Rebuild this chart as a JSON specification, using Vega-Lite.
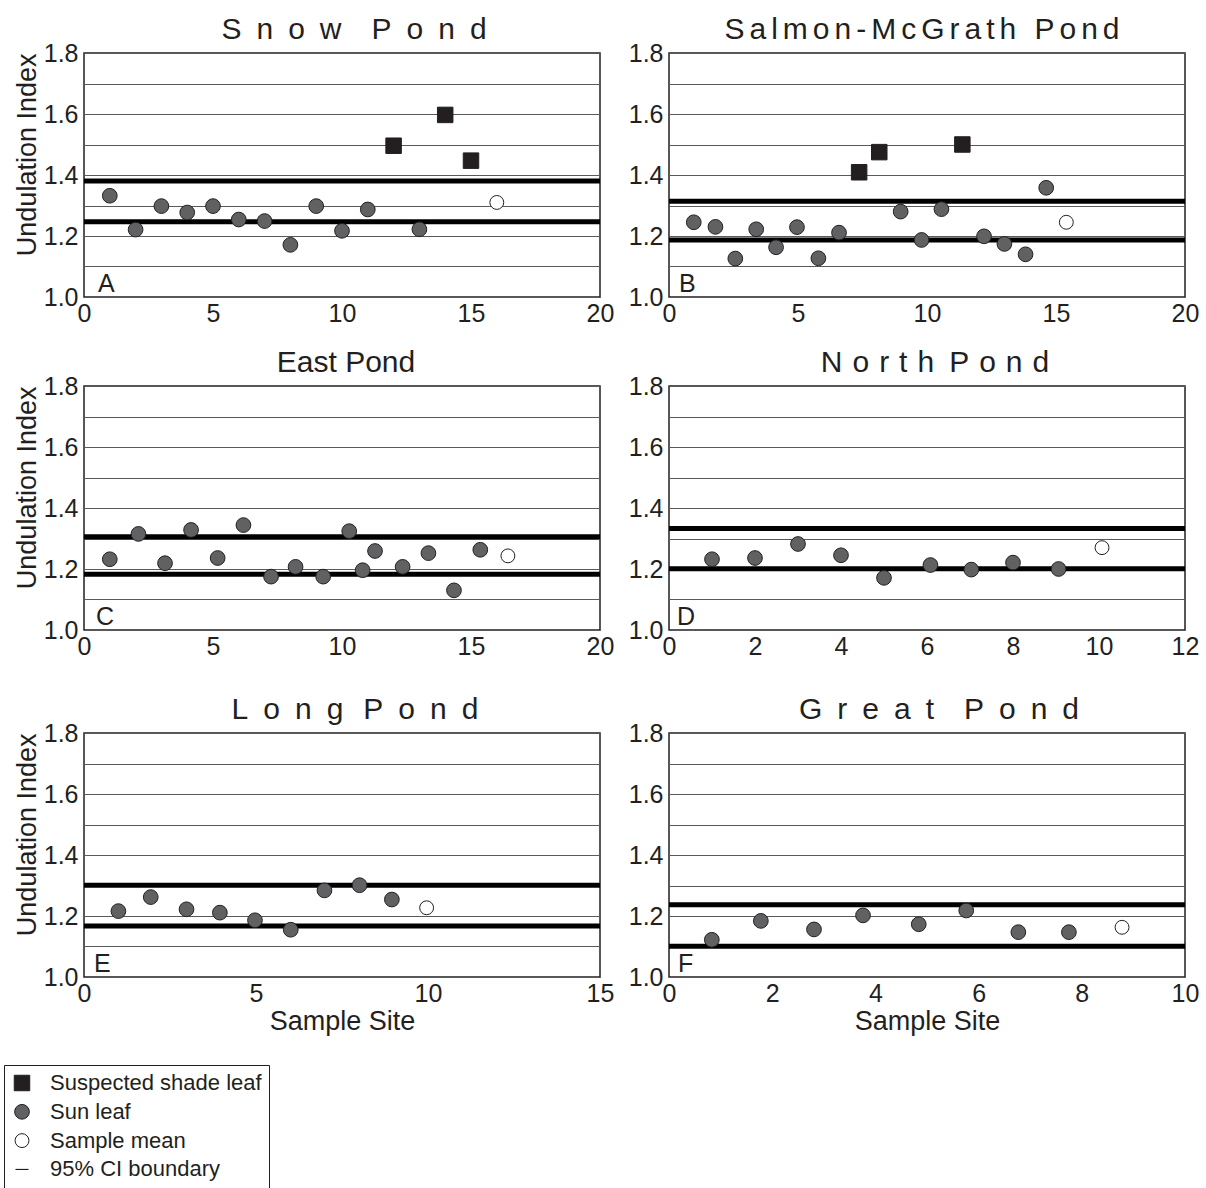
{
  "$schema": "https://vega.github.io/schema/vega-lite/v6.json",
  "padding": {"left": 3, "top": 14, "right": 3, "bottom": 0},
  "background": "#ffffff",
  "datasets": {
    "pts": [
      {"pond": "A", "site": 1, "ui": 1.332, "type": "Sun leaf"},
      {"pond": "A", "site": 2, "ui": 1.221, "type": "Sun leaf"},
      {"pond": "A", "site": 3, "ui": 1.298, "type": "Sun leaf"},
      {"pond": "A", "site": 4, "ui": 1.277, "type": "Sun leaf"},
      {"pond": "A", "site": 5, "ui": 1.298, "type": "Sun leaf"},
      {"pond": "A", "site": 6, "ui": 1.254, "type": "Sun leaf"},
      {"pond": "A", "site": 7, "ui": 1.249, "type": "Sun leaf"},
      {"pond": "A", "site": 8, "ui": 1.171, "type": "Sun leaf"},
      {"pond": "A", "site": 9, "ui": 1.298, "type": "Sun leaf"},
      {"pond": "A", "site": 10, "ui": 1.217, "type": "Sun leaf"},
      {"pond": "A", "site": 11, "ui": 1.287, "type": "Sun leaf"},
      {"pond": "A", "site": 12, "ui": 1.496, "type": "Suspected shade leaf"},
      {"pond": "A", "site": 13, "ui": 1.222, "type": "Sun leaf"},
      {"pond": "A", "site": 14, "ui": 1.597, "type": "Suspected shade leaf"},
      {"pond": "A", "site": 15, "ui": 1.447, "type": "Suspected shade leaf"},
      {"pond": "A", "site": 16, "ui": 1.31, "type": "Sample mean"},
      {"pond": "B", "site": 0.96, "ui": 1.245, "type": "Sun leaf"},
      {"pond": "B", "site": 1.8, "ui": 1.23, "type": "Sun leaf"},
      {"pond": "B", "site": 2.57, "ui": 1.126, "type": "Sun leaf"},
      {"pond": "B", "site": 3.38, "ui": 1.222, "type": "Sun leaf"},
      {"pond": "B", "site": 4.15, "ui": 1.163, "type": "Sun leaf"},
      {"pond": "B", "site": 4.96, "ui": 1.229, "type": "Sun leaf"},
      {"pond": "B", "site": 5.79, "ui": 1.127, "type": "Sun leaf"},
      {"pond": "B", "site": 6.59, "ui": 1.211, "type": "Sun leaf"},
      {"pond": "B", "site": 7.37, "ui": 1.409, "type": "Suspected shade leaf"},
      {"pond": "B", "site": 8.15, "ui": 1.475, "type": "Suspected shade leaf"},
      {"pond": "B", "site": 8.98, "ui": 1.28, "type": "Sun leaf"},
      {"pond": "B", "site": 9.79, "ui": 1.187, "type": "Sun leaf"},
      {"pond": "B", "site": 10.56, "ui": 1.288, "type": "Sun leaf"},
      {"pond": "B", "site": 11.37, "ui": 1.5, "type": "Suspected shade leaf"},
      {"pond": "B", "site": 12.21, "ui": 1.199, "type": "Sun leaf"},
      {"pond": "B", "site": 13.0, "ui": 1.174, "type": "Sun leaf"},
      {"pond": "B", "site": 13.82, "ui": 1.14, "type": "Sun leaf"},
      {"pond": "B", "site": 14.62, "ui": 1.358, "type": "Sun leaf"},
      {"pond": "B", "site": 15.4, "ui": 1.245, "type": "Sample mean"},
      {"pond": "C", "site": 1.0, "ui": 1.232, "type": "Sun leaf"},
      {"pond": "C", "site": 2.11, "ui": 1.315, "type": "Sun leaf"},
      {"pond": "C", "site": 3.14, "ui": 1.219, "type": "Sun leaf"},
      {"pond": "C", "site": 4.15, "ui": 1.328, "type": "Sun leaf"},
      {"pond": "C", "site": 5.18, "ui": 1.236, "type": "Sun leaf"},
      {"pond": "C", "site": 6.18, "ui": 1.344, "type": "Sun leaf"},
      {"pond": "C", "site": 7.25, "ui": 1.175, "type": "Sun leaf"},
      {"pond": "C", "site": 8.2, "ui": 1.207, "type": "Sun leaf"},
      {"pond": "C", "site": 9.27, "ui": 1.175, "type": "Sun leaf"},
      {"pond": "C", "site": 10.28, "ui": 1.324, "type": "Sun leaf"},
      {"pond": "C", "site": 10.8, "ui": 1.196, "type": "Sun leaf"},
      {"pond": "C", "site": 11.28, "ui": 1.259, "type": "Sun leaf"},
      {"pond": "C", "site": 12.35, "ui": 1.207, "type": "Sun leaf"},
      {"pond": "C", "site": 13.35, "ui": 1.252, "type": "Sun leaf"},
      {"pond": "C", "site": 14.34, "ui": 1.13, "type": "Sun leaf"},
      {"pond": "C", "site": 15.36, "ui": 1.263, "type": "Sun leaf"},
      {"pond": "C", "site": 16.43, "ui": 1.243, "type": "Sample mean"},
      {"pond": "D", "site": 1, "ui": 1.232, "type": "Sun leaf"},
      {"pond": "D", "site": 2, "ui": 1.236, "type": "Sun leaf"},
      {"pond": "D", "site": 3, "ui": 1.282, "type": "Sun leaf"},
      {"pond": "D", "site": 4, "ui": 1.245, "type": "Sun leaf"},
      {"pond": "D", "site": 5, "ui": 1.171, "type": "Sun leaf"},
      {"pond": "D", "site": 6.08, "ui": 1.213, "type": "Sun leaf"},
      {"pond": "D", "site": 7.03, "ui": 1.198, "type": "Sun leaf"},
      {"pond": "D", "site": 8, "ui": 1.221, "type": "Sun leaf"},
      {"pond": "D", "site": 9.06, "ui": 1.2, "type": "Sun leaf"},
      {"pond": "D", "site": 10.07, "ui": 1.27, "type": "Sample mean"},
      {"pond": "E", "site": 1, "ui": 1.216, "type": "Sun leaf"},
      {"pond": "E", "site": 1.94, "ui": 1.262, "type": "Sun leaf"},
      {"pond": "E", "site": 2.98, "ui": 1.222, "type": "Sun leaf"},
      {"pond": "E", "site": 3.95, "ui": 1.211, "type": "Sun leaf"},
      {"pond": "E", "site": 4.97, "ui": 1.186, "type": "Sun leaf"},
      {"pond": "E", "site": 6.01, "ui": 1.155, "type": "Sun leaf"},
      {"pond": "E", "site": 6.99, "ui": 1.284, "type": "Sun leaf"},
      {"pond": "E", "site": 8.01, "ui": 1.301, "type": "Sun leaf"},
      {"pond": "E", "site": 8.95, "ui": 1.254, "type": "Sun leaf"},
      {"pond": "E", "site": 9.96, "ui": 1.227, "type": "Sample mean"},
      {"pond": "F", "site": 0.83, "ui": 1.122, "type": "Sun leaf"},
      {"pond": "F", "site": 1.78, "ui": 1.184, "type": "Sun leaf"},
      {"pond": "F", "site": 2.81, "ui": 1.156, "type": "Sun leaf"},
      {"pond": "F", "site": 3.76, "ui": 1.202, "type": "Sun leaf"},
      {"pond": "F", "site": 4.84, "ui": 1.173, "type": "Sun leaf"},
      {"pond": "F", "site": 5.76, "ui": 1.218, "type": "Sun leaf"},
      {"pond": "F", "site": 6.77, "ui": 1.147, "type": "Sun leaf"},
      {"pond": "F", "site": 7.75, "ui": 1.147, "type": "Sun leaf"},
      {"pond": "F", "site": 8.78, "ui": 1.163, "type": "Sample mean"}
    ],
    "ci": [
      {"pond": "A", "ci": 1.38}, {"pond": "A", "ci": 1.247},
      {"pond": "B", "ci": 1.314}, {"pond": "B", "ci": 1.187},
      {"pond": "C", "ci": 1.306}, {"pond": "C", "ci": 1.183},
      {"pond": "D", "ci": 1.333}, {"pond": "D", "ci": 1.201},
      {"pond": "E", "ci": 1.301}, {"pond": "E", "ci": 1.167},
      {"pond": "F", "ci": 1.237}, {"pond": "F", "ci": 1.101}
    ],
    "lab": [
      {"pond": "A", "letter": "A"}, {"pond": "B", "letter": "B"},
      {"pond": "C", "letter": "C"}, {"pond": "D", "letter": "D"},
      {"pond": "E", "letter": "E"}, {"pond": "F", "letter": "F"}
    ]
  },
  "vconcat": [
    {
      "spacing": 20,
      "vconcat": [
        {
          "spacing": 12,
          "hconcat": [
            {
              "width": 516, "height": 244,
              "title": {"text": "S\u2002n\u2002o\u2002w\u2003P\u2002o\u2002n\u2002d", "dx": 12},
              "layer": [
                {"data": {"name": "ci"}, "transform": [{"filter": "datum.pond === 'A'"}],
                 "mark": {"type": "rule", "strokeWidth": 5, "color": "#000000"},
                 "encoding": {"y": {"field": "ci", "type": "quantitative", "scale": {"domain": [1, 1.8], "nice": false, "zero": false},
                   "axis": {"values": [1, 1.1, 1.2, 1.3, 1.4, 1.5, 1.6, 1.7, 1.8], "grid": true, "labelExpr": "round(datum.value*10) % 2 == 0 ? format(datum.value, '.1f') : ''", "title": "Undulation Index", "titleAnchor": "end"}}}},
                {"data": {"name": "pts"}, "transform": [{"filter": "datum.pond === 'A'"}],
                 "mark": {"type": "point", "filled": true, "opacity": 1},
                 "encoding": {
                   "x": {"field": "site", "type": "quantitative", "scale": {"domain": [0, 20], "nice": false, "zero": false}, "axis": {"values": [0, 5, 10, 15, 20], "title": null}},
                   "y": {"field": "ui", "type": "quantitative", "scale": {"domain": [1, 1.8], "nice": false, "zero": false},
                     "axis": {"values": [1, 1.1, 1.2, 1.3, 1.4, 1.5, 1.6, 1.7, 1.8], "grid": true, "labelExpr": "round(datum.value*10) % 2 == 0 ? format(datum.value, '.1f') : ''", "title": "Undulation Index", "titleAnchor": "end"}},
                   "shape": {"field": "type", "type": "nominal", "scale": {"domain": ["Suspected shade leaf", "Sun leaf", "Sample mean", "95% CI boundary"], "range": ["square", "circle", "circle", "stroke"]},
                     "legend": {"title": null, "orient": "none", "legendX": -80, "legendY": 1012}},
                   "fill": {"field": "type", "type": "nominal", "scale": {"domain": ["Suspected shade leaf", "Sun leaf", "Sample mean", "95% CI boundary"], "range": ["#231f20", "#616163", "#ffffff", "#231f20"]},
                     "legend": {"title": null, "orient": "none", "legendX": -80, "legendY": 1012}},
                   "stroke": {"field": "type", "type": "nominal", "scale": {"domain": ["Suspected shade leaf", "Sun leaf", "Sample mean", "95% CI boundary"], "range": ["#231f20", "#231f20", "#231f20", "#000000"]},
                     "legend": {"title": null, "orient": "none", "legendX": -80, "legendY": 1012}},
                   "size": {"field": "type", "type": "ordinal", "scale": {"domain": ["Suspected shade leaf", "Sun leaf", "Sample mean", "95% CI boundary"], "range": [240, 169, 110, 600]},
                     "legend": {"title": null, "orient": "none", "legendX": -80, "legendY": 1012}},
                   "strokeWidth": {"field": "type", "type": "ordinal", "scale": {"domain": ["Suspected shade leaf", "Sun leaf", "Sample mean", "95% CI boundary"], "range": [1, 1, 1, 5]},
                     "legend": {"title": null, "orient": "none", "legendX": -80, "legendY": 1012}}
                 }},
                {"data": {"name": "lab"}, "transform": [{"filter": "datum.pond === 'A'"}],
                 "mark": {"type": "text", "align": "left", "baseline": "bottom", "dx": 14, "fontSize": 25, "font": "Liberation Sans", "color": "#231f20"},
                 "encoding": {
                   "x": {"datum": 0, "type": "quantitative", "scale": {"domain": [0, 20], "nice": false, "zero": false}, "axis": {"values": [0, 5, 10, 15, 20], "title": null}},
                   "y": {"datum": 1, "type": "quantitative", "scale": {"domain": [1, 1.8], "nice": false, "zero": false},
                     "axis": {"values": [1, 1.1, 1.2, 1.3, 1.4, 1.5, 1.6, 1.7, 1.8], "grid": true, "labelExpr": "round(datum.value*10) % 2 == 0 ? format(datum.value, '.1f') : ''", "title": "Undulation Index", "titleAnchor": "end"}},
                   "text": {"field": "letter"}}}
              ]
            },
            {
              "width": 516, "height": 244,
              "title": {"text": "S\u2006a\u2006l\u2006m\u2006o\u2006n\u2006-\u2006M\u2006c\u2006G\u2006r\u2006a\u2006t\u2006h\u2006 \u2006P\u2006o\u2006n\u2006d", "dx": -5},
              "layer": [
                {"data": {"name": "ci"}, "transform": [{"filter": "datum.pond === 'B'"}],
                 "mark": {"type": "rule", "strokeWidth": 5, "color": "#000000"},
                 "encoding": {"y": {"field": "ci", "type": "quantitative", "scale": {"domain": [1, 1.8], "nice": false, "zero": false},
                   "axis": {"values": [1, 1.1, 1.2, 1.3, 1.4, 1.5, 1.6, 1.7, 1.8], "grid": true, "labelExpr": "round(datum.value*10) % 2 == 0 ? format(datum.value, '.1f') : ''", "title": null}}}},
                {"data": {"name": "pts"}, "transform": [{"filter": "datum.pond === 'B'"}],
                 "mark": {"type": "point", "filled": true, "opacity": 1},
                 "encoding": {
                   "x": {"field": "site", "type": "quantitative", "scale": {"domain": [0, 20], "nice": false, "zero": false}, "axis": {"values": [0, 5, 10, 15, 20], "title": null}},
                   "y": {"field": "ui", "type": "quantitative", "scale": {"domain": [1, 1.8], "nice": false, "zero": false},
                     "axis": {"values": [1, 1.1, 1.2, 1.3, 1.4, 1.5, 1.6, 1.7, 1.8], "grid": true, "labelExpr": "round(datum.value*10) % 2 == 0 ? format(datum.value, '.1f') : ''", "title": null}},
                   "shape": {"field": "type", "type": "nominal", "scale": {"domain": ["Suspected shade leaf", "Sun leaf", "Sample mean", "95% CI boundary"], "range": ["square", "circle", "circle", "stroke"]},
                     "legend": {"title": null, "orient": "none", "legendX": -80, "legendY": 1012}},
                   "fill": {"field": "type", "type": "nominal", "scale": {"domain": ["Suspected shade leaf", "Sun leaf", "Sample mean", "95% CI boundary"], "range": ["#231f20", "#616163", "#ffffff", "#231f20"]},
                     "legend": {"title": null, "orient": "none", "legendX": -80, "legendY": 1012}},
                   "stroke": {"field": "type", "type": "nominal", "scale": {"domain": ["Suspected shade leaf", "Sun leaf", "Sample mean", "95% CI boundary"], "range": ["#231f20", "#231f20", "#231f20", "#000000"]},
                     "legend": {"title": null, "orient": "none", "legendX": -80, "legendY": 1012}},
                   "size": {"field": "type", "type": "ordinal", "scale": {"domain": ["Suspected shade leaf", "Sun leaf", "Sample mean", "95% CI boundary"], "range": [240, 169, 110, 600]},
                     "legend": {"title": null, "orient": "none", "legendX": -80, "legendY": 1012}},
                   "strokeWidth": {"field": "type", "type": "ordinal", "scale": {"domain": ["Suspected shade leaf", "Sun leaf", "Sample mean", "95% CI boundary"], "range": [1, 1, 1, 5]},
                     "legend": {"title": null, "orient": "none", "legendX": -80, "legendY": 1012}}
                 }},
                {"data": {"name": "lab"}, "transform": [{"filter": "datum.pond === 'B'"}],
                 "mark": {"type": "text", "align": "left", "baseline": "bottom", "dx": 10, "fontSize": 25, "font": "Liberation Sans", "color": "#231f20"},
                 "encoding": {
                   "x": {"datum": 0, "type": "quantitative", "scale": {"domain": [0, 20], "nice": false, "zero": false}, "axis": {"values": [0, 5, 10, 15, 20], "title": null}},
                   "y": {"datum": 1, "type": "quantitative", "scale": {"domain": [1, 1.8], "nice": false, "zero": false},
                     "axis": {"values": [1, 1.1, 1.2, 1.3, 1.4, 1.5, 1.6, 1.7, 1.8], "grid": true, "labelExpr": "round(datum.value*10) % 2 == 0 ? format(datum.value, '.1f') : ''", "title": null}},
                   "text": {"field": "letter"}}}
              ]
            }
          ]
        },
        {
          "spacing": 12,
          "hconcat": [
            {
              "width": 516, "height": 244,
              "title": {"text": "East Pond", "dx": 4},
              "layer": [
                {"data": {"name": "ci"}, "transform": [{"filter": "datum.pond === 'C'"}],
                 "mark": {"type": "rule", "strokeWidth": 5, "color": "#000000"},
                 "encoding": {"y": {"field": "ci", "type": "quantitative", "scale": {"domain": [1, 1.8], "nice": false, "zero": false},
                   "axis": {"values": [1, 1.1, 1.2, 1.3, 1.4, 1.5, 1.6, 1.7, 1.8], "grid": true, "labelExpr": "round(datum.value*10) % 2 == 0 ? format(datum.value, '.1f') : ''", "title": "Undulation Index", "titleAnchor": "end"}}}},
                {"data": {"name": "pts"}, "transform": [{"filter": "datum.pond === 'C'"}],
                 "mark": {"type": "point", "filled": true, "opacity": 1},
                 "encoding": {
                   "x": {"field": "site", "type": "quantitative", "scale": {"domain": [0, 20], "nice": false, "zero": false}, "axis": {"values": [0, 5, 10, 15, 20], "title": null}},
                   "y": {"field": "ui", "type": "quantitative", "scale": {"domain": [1, 1.8], "nice": false, "zero": false},
                     "axis": {"values": [1, 1.1, 1.2, 1.3, 1.4, 1.5, 1.6, 1.7, 1.8], "grid": true, "labelExpr": "round(datum.value*10) % 2 == 0 ? format(datum.value, '.1f') : ''", "title": "Undulation Index", "titleAnchor": "end"}},
                   "shape": {"field": "type", "type": "nominal", "scale": {"domain": ["Suspected shade leaf", "Sun leaf", "Sample mean", "95% CI boundary"], "range": ["square", "circle", "circle", "stroke"]},
                     "legend": {"title": null, "orient": "none", "legendX": -80, "legendY": 1012}},
                   "fill": {"field": "type", "type": "nominal", "scale": {"domain": ["Suspected shade leaf", "Sun leaf", "Sample mean", "95% CI boundary"], "range": ["#231f20", "#616163", "#ffffff", "#231f20"]},
                     "legend": {"title": null, "orient": "none", "legendX": -80, "legendY": 1012}},
                   "stroke": {"field": "type", "type": "nominal", "scale": {"domain": ["Suspected shade leaf", "Sun leaf", "Sample mean", "95% CI boundary"], "range": ["#231f20", "#231f20", "#231f20", "#000000"]},
                     "legend": {"title": null, "orient": "none", "legendX": -80, "legendY": 1012}},
                   "size": {"field": "type", "type": "ordinal", "scale": {"domain": ["Suspected shade leaf", "Sun leaf", "Sample mean", "95% CI boundary"], "range": [240, 169, 110, 600]},
                     "legend": {"title": null, "orient": "none", "legendX": -80, "legendY": 1012}},
                   "strokeWidth": {"field": "type", "type": "ordinal", "scale": {"domain": ["Suspected shade leaf", "Sun leaf", "Sample mean", "95% CI boundary"], "range": [1, 1, 1, 5]},
                     "legend": {"title": null, "orient": "none", "legendX": -80, "legendY": 1012}}
                 }},
                {"data": {"name": "lab"}, "transform": [{"filter": "datum.pond === 'C'"}],
                 "mark": {"type": "text", "align": "left", "baseline": "bottom", "dx": 12, "fontSize": 25, "font": "Liberation Sans", "color": "#231f20"},
                 "encoding": {
                   "x": {"datum": 0, "type": "quantitative", "scale": {"domain": [0, 20], "nice": false, "zero": false}, "axis": {"values": [0, 5, 10, 15, 20], "title": null}},
                   "y": {"datum": 1, "type": "quantitative", "scale": {"domain": [1, 1.8], "nice": false, "zero": false},
                     "axis": {"values": [1, 1.1, 1.2, 1.3, 1.4, 1.5, 1.6, 1.7, 1.8], "grid": true, "labelExpr": "round(datum.value*10) % 2 == 0 ? format(datum.value, '.1f') : ''", "title": "Undulation Index", "titleAnchor": "end"}},
                   "text": {"field": "letter"}}}
              ]
            },
            {
              "width": 516, "height": 244,
              "title": {"text": "N\u2004o\u2004r\u2004t\u2004h\u2002P\u2004o\u2004n\u2004d", "dx": 8},
              "layer": [
                {"data": {"name": "ci"}, "transform": [{"filter": "datum.pond === 'D'"}],
                 "mark": {"type": "rule", "strokeWidth": 5, "color": "#000000"},
                 "encoding": {"y": {"field": "ci", "type": "quantitative", "scale": {"domain": [1, 1.8], "nice": false, "zero": false},
                   "axis": {"values": [1, 1.1, 1.2, 1.3, 1.4, 1.5, 1.6, 1.7, 1.8], "grid": true, "labelExpr": "round(datum.value*10) % 2 == 0 ? format(datum.value, '.1f') : ''", "title": null}}}},
                {"data": {"name": "pts"}, "transform": [{"filter": "datum.pond === 'D'"}],
                 "mark": {"type": "point", "filled": true, "opacity": 1},
                 "encoding": {
                   "x": {"field": "site", "type": "quantitative", "scale": {"domain": [0, 12], "nice": false, "zero": false}, "axis": {"values": [0, 2, 4, 6, 8, 10, 12], "title": null}},
                   "y": {"field": "ui", "type": "quantitative", "scale": {"domain": [1, 1.8], "nice": false, "zero": false},
                     "axis": {"values": [1, 1.1, 1.2, 1.3, 1.4, 1.5, 1.6, 1.7, 1.8], "grid": true, "labelExpr": "round(datum.value*10) % 2 == 0 ? format(datum.value, '.1f') : ''", "title": null}},
                   "shape": {"field": "type", "type": "nominal", "scale": {"domain": ["Suspected shade leaf", "Sun leaf", "Sample mean", "95% CI boundary"], "range": ["square", "circle", "circle", "stroke"]},
                     "legend": {"title": null, "orient": "none", "legendX": -80, "legendY": 1012}},
                   "fill": {"field": "type", "type": "nominal", "scale": {"domain": ["Suspected shade leaf", "Sun leaf", "Sample mean", "95% CI boundary"], "range": ["#231f20", "#616163", "#ffffff", "#231f20"]},
                     "legend": {"title": null, "orient": "none", "legendX": -80, "legendY": 1012}},
                   "stroke": {"field": "type", "type": "nominal", "scale": {"domain": ["Suspected shade leaf", "Sun leaf", "Sample mean", "95% CI boundary"], "range": ["#231f20", "#231f20", "#231f20", "#000000"]},
                     "legend": {"title": null, "orient": "none", "legendX": -80, "legendY": 1012}},
                   "size": {"field": "type", "type": "ordinal", "scale": {"domain": ["Suspected shade leaf", "Sun leaf", "Sample mean", "95% CI boundary"], "range": [240, 169, 110, 600]},
                     "legend": {"title": null, "orient": "none", "legendX": -80, "legendY": 1012}},
                   "strokeWidth": {"field": "type", "type": "ordinal", "scale": {"domain": ["Suspected shade leaf", "Sun leaf", "Sample mean", "95% CI boundary"], "range": [1, 1, 1, 5]},
                     "legend": {"title": null, "orient": "none", "legendX": -80, "legendY": 1012}}
                 }},
                {"data": {"name": "lab"}, "transform": [{"filter": "datum.pond === 'D'"}],
                 "mark": {"type": "text", "align": "left", "baseline": "bottom", "dx": 8, "fontSize": 25, "font": "Liberation Sans", "color": "#231f20"},
                 "encoding": {
                   "x": {"datum": 0, "type": "quantitative", "scale": {"domain": [0, 12], "nice": false, "zero": false}, "axis": {"values": [0, 2, 4, 6, 8, 10, 12], "title": null}},
                   "y": {"datum": 1, "type": "quantitative", "scale": {"domain": [1, 1.8], "nice": false, "zero": false},
                     "axis": {"values": [1, 1.1, 1.2, 1.3, 1.4, 1.5, 1.6, 1.7, 1.8], "grid": true, "labelExpr": "round(datum.value*10) % 2 == 0 ? format(datum.value, '.1f') : ''", "title": null}},
                   "text": {"field": "letter"}}}
              ]
            }
          ]
        }
      ]
    },
    {
      "spacing": 12,
      "hconcat": [
        {
          "width": 516, "height": 244,
          "title": {"text": "L\u2002o\u2002n\u2002g\u2002\u2006P\u2002o\u2002n\u2002d", "dx": 13},
          "layer": [
            {"data": {"name": "ci"}, "transform": [{"filter": "datum.pond === 'E'"}],
             "mark": {"type": "rule", "strokeWidth": 5, "color": "#000000"},
             "encoding": {"y": {"field": "ci", "type": "quantitative", "scale": {"domain": [1, 1.8], "nice": false, "zero": false},
               "axis": {"values": [1, 1.1, 1.2, 1.3, 1.4, 1.5, 1.6, 1.7, 1.8], "grid": true, "labelExpr": "round(datum.value*10) % 2 == 0 ? format(datum.value, '.1f') : ''", "title": "Undulation Index", "titleAnchor": "end"}}}},
            {"data": {"name": "pts"}, "transform": [{"filter": "datum.pond === 'E'"}],
             "mark": {"type": "point", "filled": true, "opacity": 1},
             "encoding": {
               "x": {"field": "site", "type": "quantitative", "scale": {"domain": [0, 15], "nice": false, "zero": false}, "axis": {"values": [0, 5, 10, 15], "title": "Sample Site"}},
               "y": {"field": "ui", "type": "quantitative", "scale": {"domain": [1, 1.8], "nice": false, "zero": false},
                 "axis": {"values": [1, 1.1, 1.2, 1.3, 1.4, 1.5, 1.6, 1.7, 1.8], "grid": true, "labelExpr": "round(datum.value*10) % 2 == 0 ? format(datum.value, '.1f') : ''", "title": "Undulation Index", "titleAnchor": "end"}},
               "shape": {"field": "type", "type": "nominal", "scale": {"domain": ["Suspected shade leaf", "Sun leaf", "Sample mean", "95% CI boundary"], "range": ["square", "circle", "circle", "stroke"]},
                 "legend": {"title": null, "orient": "none", "legendX": -80, "legendY": 1012}},
               "fill": {"field": "type", "type": "nominal", "scale": {"domain": ["Suspected shade leaf", "Sun leaf", "Sample mean", "95% CI boundary"], "range": ["#231f20", "#616163", "#ffffff", "#231f20"]},
                 "legend": {"title": null, "orient": "none", "legendX": -80, "legendY": 1012}},
               "stroke": {"field": "type", "type": "nominal", "scale": {"domain": ["Suspected shade leaf", "Sun leaf", "Sample mean", "95% CI boundary"], "range": ["#231f20", "#231f20", "#231f20", "#000000"]},
                 "legend": {"title": null, "orient": "none", "legendX": -80, "legendY": 1012}},
               "size": {"field": "type", "type": "ordinal", "scale": {"domain": ["Suspected shade leaf", "Sun leaf", "Sample mean", "95% CI boundary"], "range": [240, 169, 110, 600]},
                 "legend": {"title": null, "orient": "none", "legendX": -80, "legendY": 1012}},
               "strokeWidth": {"field": "type", "type": "ordinal", "scale": {"domain": ["Suspected shade leaf", "Sun leaf", "Sample mean", "95% CI boundary"], "range": [1, 1, 1, 5]},
                 "legend": {"title": null, "orient": "none", "legendX": -80, "legendY": 1012}}
             }},
            {"data": {"name": "lab"}, "transform": [{"filter": "datum.pond === 'E'"}],
             "mark": {"type": "text", "align": "left", "baseline": "bottom", "dx": 10, "fontSize": 25, "font": "Liberation Sans", "color": "#231f20"},
             "encoding": {
               "x": {"datum": 0, "type": "quantitative", "scale": {"domain": [0, 15], "nice": false, "zero": false}, "axis": {"values": [0, 5, 10, 15], "title": "Sample Site"}},
               "y": {"datum": 1, "type": "quantitative", "scale": {"domain": [1, 1.8], "nice": false, "zero": false},
                 "axis": {"values": [1, 1.1, 1.2, 1.3, 1.4, 1.5, 1.6, 1.7, 1.8], "grid": true, "labelExpr": "round(datum.value*10) % 2 == 0 ? format(datum.value, '.1f') : ''", "title": "Undulation Index", "titleAnchor": "end"}},
               "text": {"field": "letter"}}}
          ]
        },
        {
          "width": 516, "height": 244,
          "title": {"text": "G\u2002r\u2002e\u2002a\u2002t\u2003P\u2002o\u2002n\u2002d", "dx": 12},
          "layer": [
            {"data": {"name": "ci"}, "transform": [{"filter": "datum.pond === 'F'"}],
             "mark": {"type": "rule", "strokeWidth": 5, "color": "#000000"},
             "encoding": {"y": {"field": "ci", "type": "quantitative", "scale": {"domain": [1, 1.8], "nice": false, "zero": false},
               "axis": {"values": [1, 1.1, 1.2, 1.3, 1.4, 1.5, 1.6, 1.7, 1.8], "grid": true, "labelExpr": "round(datum.value*10) % 2 == 0 ? format(datum.value, '.1f') : ''", "title": null}}}},
            {"data": {"name": "pts"}, "transform": [{"filter": "datum.pond === 'F'"}],
             "mark": {"type": "point", "filled": true, "opacity": 1},
             "encoding": {
               "x": {"field": "site", "type": "quantitative", "scale": {"domain": [0, 10], "nice": false, "zero": false}, "axis": {"values": [0, 2, 4, 6, 8, 10], "title": "Sample Site"}},
               "y": {"field": "ui", "type": "quantitative", "scale": {"domain": [1, 1.8], "nice": false, "zero": false},
                 "axis": {"values": [1, 1.1, 1.2, 1.3, 1.4, 1.5, 1.6, 1.7, 1.8], "grid": true, "labelExpr": "round(datum.value*10) % 2 == 0 ? format(datum.value, '.1f') : ''", "title": null}},
               "shape": {"field": "type", "type": "nominal", "scale": {"domain": ["Suspected shade leaf", "Sun leaf", "Sample mean", "95% CI boundary"], "range": ["square", "circle", "circle", "stroke"]},
                 "legend": {"title": null, "orient": "none", "legendX": -80, "legendY": 1012}},
               "fill": {"field": "type", "type": "nominal", "scale": {"domain": ["Suspected shade leaf", "Sun leaf", "Sample mean", "95% CI boundary"], "range": ["#231f20", "#616163", "#ffffff", "#231f20"]},
                 "legend": {"title": null, "orient": "none", "legendX": -80, "legendY": 1012}},
               "stroke": {"field": "type", "type": "nominal", "scale": {"domain": ["Suspected shade leaf", "Sun leaf", "Sample mean", "95% CI boundary"], "range": ["#231f20", "#231f20", "#231f20", "#000000"]},
                 "legend": {"title": null, "orient": "none", "legendX": -80, "legendY": 1012}},
               "size": {"field": "type", "type": "ordinal", "scale": {"domain": ["Suspected shade leaf", "Sun leaf", "Sample mean", "95% CI boundary"], "range": [240, 169, 110, 600]},
                 "legend": {"title": null, "orient": "none", "legendX": -80, "legendY": 1012}},
               "strokeWidth": {"field": "type", "type": "ordinal", "scale": {"domain": ["Suspected shade leaf", "Sun leaf", "Sample mean", "95% CI boundary"], "range": [1, 1, 1, 5]},
                 "legend": {"title": null, "orient": "none", "legendX": -80, "legendY": 1012}}
             }},
            {"data": {"name": "lab"}, "transform": [{"filter": "datum.pond === 'F'"}],
             "mark": {"type": "text", "align": "left", "baseline": "bottom", "dx": 9, "fontSize": 25, "font": "Liberation Sans", "color": "#231f20"},
             "encoding": {
               "x": {"datum": 0, "type": "quantitative", "scale": {"domain": [0, 10], "nice": false, "zero": false}, "axis": {"values": [0, 2, 4, 6, 8, 10], "title": "Sample Site"}},
               "y": {"datum": 1, "type": "quantitative", "scale": {"domain": [1, 1.8], "nice": false, "zero": false},
                 "axis": {"values": [1, 1.1, 1.2, 1.3, 1.4, 1.5, 1.6, 1.7, 1.8], "grid": true, "labelExpr": "round(datum.value*10) % 2 == 0 ? format(datum.value, '.1f') : ''", "title": null}},
               "text": {"field": "letter"}}}
          ]
        }
      ]
    }
  ],
  "spacing": 34,
  "config": {
    "font": "Liberation Sans",
    "view": {"stroke": "#231f20", "strokeWidth": 1.5},
    "title": {"font": "Liberation Sans", "fontSize": 30, "fontWeight": "normal", "color": "#231f20", "offset": -4, "anchor": "middle"},
    "axis": {"labelFont": "Liberation Sans", "labelFontSize": 25, "labelColor": "#231f20", "titleFont": "Liberation Sans", "titleFontSize": 27, "titleFontWeight": "normal", "titleColor": "#231f20", "ticks": false, "domain": false, "gridColor": "#58595b", "gridWidth": 1.2, "gridOpacity": 1, "labelFlush": false, "labelOverlap": false},
    "axisX": {"grid": false, "labelPadding": 4, "titlePadding": 2},
    "axisY": {"labelPadding": 6, "titlePadding": 2},
    "legend": {"padding": 7, "strokeColor": "#231f20", "fillColor": "#ffffff", "labelFont": "Liberation Sans", "labelFontSize": 22, "labelColor": "#231f20", "labelLimit": 0, "labelOffset": 17, "rowPadding": 6.8, "symbolSize": 289}
  }
}
